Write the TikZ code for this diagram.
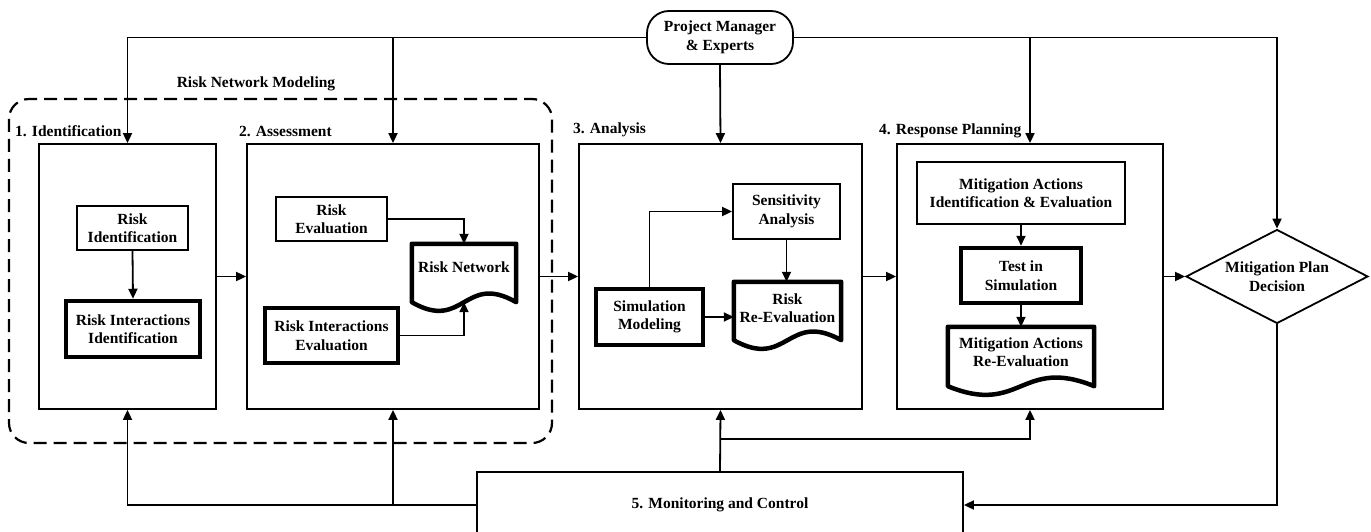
\documentclass[tikz,border=0pt]{standalone}
\usepackage{fontspec}
\setmainfont{Liberation Serif}
\usetikzlibrary{arrows.meta,shapes.geometric,calc}
\tikzset{
  txt/.style={font=\fontsize{15.5}{18.5}\selectfont\bfseries, align=center, inner sep=0pt},
  box/.style={txt, draw, line width=1.8pt},
  tbox/.style={txt, draw, line width=4.5pt},
  doc/.style={txt},
  arr/.style={line width=1.8pt, -{Triangle[length=10pt,width=9pt]}},
  ln/.style={line width=1.8pt},
  grp/.style={line width=2.2pt, dash pattern=on 13pt off 7pt, rounded corners=20pt},
}
\newcommand\docshape[2]{%
  \draw[line width=4.5pt, line join=round]
    ($(#1.south west)+(0,#2)$) -- (#1.north west) -- (#1.north east) -- ($(#1.south east)+(0,#2)$)
    .. controls ($(#1.south)+(0,#2-30)$) and ($(#1.south)+(0,#2+30)$) .. ($(#1.south west)+(0,#2)$) -- cycle;
  \coordinate (#1-b) at ($(#1.south)+(0,#2)$);}
\begin{document}
\begin{tikzpicture}[x=1pt,y=-1pt]
\useasboundingbox (0,0) rectangle (1371,532);
\clip (0,0) rectangle (1371,532);

% group
\draw[grp] (9,99) rectangle (552,443);
\node[txt] (rnm) at (256,84) {Risk Network Modeling};

% stage boxes
\node[box, minimum width=177pt, minimum height=265pt] (box1) at (127.5,276.5) {};
\node[box, minimum width=292pt, minimum height=265pt] (box2) at (393,276.5) {};
\node[box, minimum width=283pt, minimum height=265pt] (box3) at (720.5,276.5) {};
\node[box, minimum width=266pt, minimum height=265pt] (box4) at (1030,276.5) {};

\node[txt, anchor=west] (l1) at (15,131) {1. Identification};
\node[txt, anchor=west] (l2) at (239,131) {2. Assessment};
\node[txt, anchor=west] (l3) at (573,130) {3. Analysis};
\node[txt, anchor=west] (l4) at (879,131) {4. Response Planning};

% top node
\node[box, rounded corners=22pt, minimum width=146pt, minimum height=53pt] (pm) at (720,37.5) {Project Manager\\\& Experts};

% decision
\node[txt, draw, diamond, shape aspect=1.94, line width=1.8pt, minimum width=182pt, minimum height=94pt] (dec) at (1277,276.5) {Mitigation Plan\\Decision};

% monitoring
\node[box, minimum width=486pt, minimum height=100pt] (mon) at (720,522) {};
\node[txt] (montxt) at (720,505) {5. Monitoring and Control};

% stage 1
\node[box, minimum width=111pt, minimum height=44pt] (ri) at (132.5,228) {Risk\\Identification};
\node[tbox, minimum width=134pt, minimum height=56pt] (rii) at (133,329) {Risk Interactions\\Identification};

% stage 2
\node[box, minimum width=111pt, minimum height=44pt] (re) at (331.5,219) {Risk\\Evaluation};
\node[tbox, minimum width=133pt, minimum height=55pt] (rie) at (331.5,335.5) {Risk Interactions\\Evaluation};
\node[doc, minimum width=104pt, minimum height=46pt] (rn) at (464,267) {Risk Network};
\docshape{rn}{12}

% stage 3
\node[box, minimum width=107pt, minimum height=55pt] (sa) at (786.5,211.5) {Sensitivity\\Analysis};
\node[tbox, minimum width=107pt, minimum height=56pt] (sm) at (649.5,317) {Simulation\\Modeling};
\node[doc, minimum width=107pt, minimum height=52pt] (rre) at (787.5,308) {Risk\\Re-Evaluation};
\docshape{rre}{6}

% stage 4
\node[box, minimum width=208pt, minimum height=62pt] (maie) at (1021,193) {Mitigation Actions\\Identification \& Evaluation};
\node[tbox, minimum width=120pt, minimum height=55pt] (tis) at (1021,275.5) {Test in\\Simulation};
\node[doc, minimum width=146pt, minimum height=50pt] (mare) at (1021,352) {Mitigation Actions\\Re-Evaluation};
\docshape{mare}{9}

% internal arrows
\draw[arr] (ri.south) -- (rii.north);
\draw[arr] (re.east) -| (rn.north);
\draw[arr] (rie.east) -| (rn-b);
\draw[arr] (sm.north) |- (sa.west);
\draw[arr] (sa.south) -- (sa.south |- rre.north);
\draw[arr] (sm.east) -- (sm.east -| rre.west);
\draw[arr] (maie.south) -- (tis.north);
\draw[arr] (tis.south) -- (mare.north);

% stage flow
\draw[arr] (box1.east) -- (box2.west);
\draw[arr] (box2.east) -- (box3.west);
\draw[arr] (box3.east) -- (box4.west);
\draw[arr] (box4.east) -- (dec.west);

% from project manager
\draw[arr] (pm.west) -| (box1.north);
\draw[arr] (pm.west) -| (box2.north);
\draw[arr] (pm.south) -- (box3.north);
\draw[arr] (pm.east) -| (box4.north);
\draw[arr] (pm.east) -| (dec.north);

% monitoring feedback
\draw[arr] (mon.west |- montxt) -| (box1.south);
\draw[arr] (mon.west |- montxt) -| (box2.south);
\draw[arr] (mon.north) -- (box3.south);
\coordinate (br) at (720,439);
\draw[arr] (br) -| (box4.south);
\draw[arr] (dec.south) |- (mon.east |- montxt);
\end{tikzpicture}
\end{document}
